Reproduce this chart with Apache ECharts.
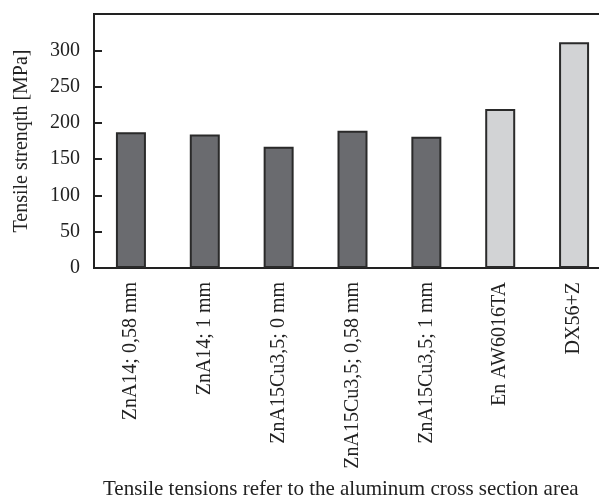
<!DOCTYPE html>
<html>
<head>
<meta charset="utf-8">
<script src="https://cdn.jsdelivr.net/npm/echarts@6/dist/echarts.min.js"></script>
<style>
  html, body { margin: 0; padding: 0; background: #fff; }
  #chart { width: 599px; height: 503px; }
</style>
</head>
<body>
<div id="chart"></div>
<script>
// data
const categories = ['ZnA14; 0,58 mm', 'ZnA14; 1 mm', 'ZnA15Cu3,5; 0 mm', 'ZnA15Cu3,5; 0,58 mm', 'ZnA15Cu3,5; 1 mm', 'En AW6016TA', 'DX56+Z']
const strength = [187, 184, 167, 189, 181, 219, 311]
// zinc alloys dark, reference materials light
const isReference = [false, false, false, false, false, true, true]

const serif = '"Liberation Serif", "DejaVu Serif", serif'
const ink = '#222'

const chart = echarts.init(document.getElementById('chart'))

const option = {
  animation: false,
  grid: {
    left: 94,
    top: 14,
    height: 254,
    // plot runs past the right edge of the picture, like the reference
    width: 517,
    outerBoundsMode: 'none',
    show: true,
    borderColor: ink,
    borderWidth: 2,
    backgroundColor: 'transparent'
  },
  graphic: [{
    type: 'text',
    left: 103,
    top: 479,
    style: {
      text: 'Tensile tensions refer to the aluminum cross section area',
      font: '21px ' + serif,
      fill: ink
    }
  }],
  xAxis: {
    type: 'category',
    data: categories,
    axisLine: { lineStyle: { color: ink, width: 2 } },
    axisTick: { show: false },
    axisLabel: {
      rotate: 90,
      margin: 14,
      fontFamily: serif,
      fontSize: 20,
      color: ink
    }
  },
  yAxis: {
    type: 'value',
    min: 0,
    max: 350,
    interval: 50,
    name: 'Tensile strenqth [MPa]',
    nameLocation: 'middle',
    nameGap: 62,
    nameTextStyle: { fontFamily: serif, fontSize: 20, color: ink },
    axisLine: { show: true, lineStyle: { color: ink, width: 2 } },
    axisTick: { show: true, inside: true, length: 8, lineStyle: { color: ink, width: 2 } },
    splitLine: { show: false },
    axisLabel: {
      showMaxLabel: false,
      margin: 14,
      fontFamily: serif,
      fontSize: 20,
      color: ink
    }
  },
  series: [{
    type: 'bar',
    barWidth: 30,
    data: strength.map((v, i) => ({
      value: v,
      itemStyle: { color: isReference[i] ? '#d2d3d5' : '#6a6b6f' }
    })),
    itemStyle: { borderColor: '#2a2a2a', borderWidth: 2 }
  }]
}

chart.setOption(option)
</script>
</body>
</html>
